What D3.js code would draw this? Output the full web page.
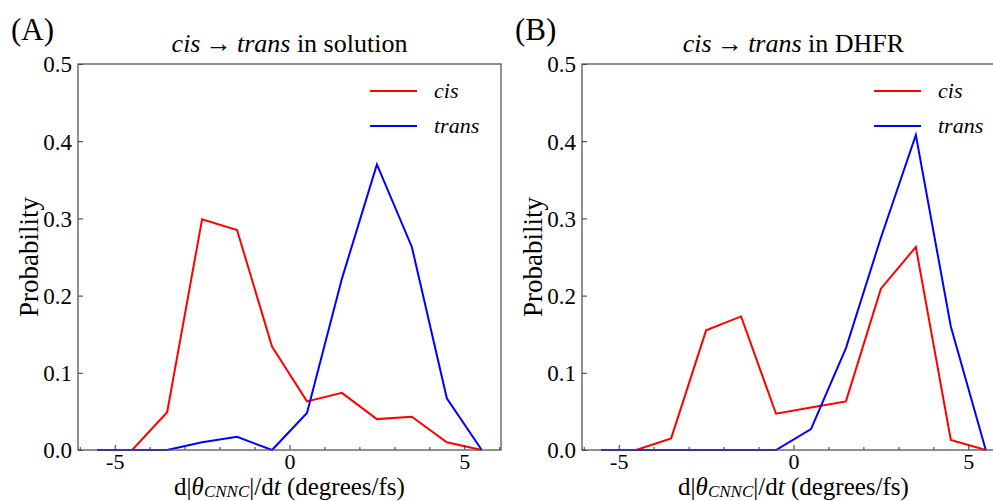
<!DOCTYPE html>
<html>
<head>
<meta charset="utf-8">
<script src="https://cdn.jsdelivr.net/npm/d3@7"></script>
<style>
  body { margin: 0; background: #fff; }
  svg { display: block; }
  text { font-family: "Liberation Serif", "Times New Roman", serif; fill: #000; }
</style>
</head>
<body>
<div id="chart"></div>
<script>
const width = 993;
const height = 501;

// bin centres (degrees/fs)
const binCenters = [-5.5, -4.5, -3.5, -2.5, -1.5, -0.5, 0.5, 1.5, 2.5, 3.5, 4.5, 5.5];

const solutionCis   = [0, 0, 0.049, 0.299, 0.285, 0.134, 0.063, 0.074, 0.040, 0.043, 0.010, 0];
const solutionTrans = [0, 0, 0, 0.010, 0.017, 0, 0.048, 0.222, 0.370, 0.263, 0.067, 0];

const dhfrCis   = [0, 0, 0.015, 0.155, 0.173, 0.047, 0.055, 0.063, 0.209, 0.263, 0.013, 0];
const dhfrTrans = [0, 0, 0, 0, 0, 0, 0.027, 0.132, 0.275, 0.408, 0.160, 0];

const xMajorTicks = [-5, 0, 5];
const xMinorTicks = [-6, -4, -3, -2, -1, 1, 2, 3, 4, 6];
const yTicks = [0.0, 0.1, 0.2, 0.3, 0.4, 0.5];

const svg = d3.select("#chart")
  .append("svg")
  .attr("width", width)
  .attr("height", height)
  .style("overflow", "hidden");

const plotW = 423;
const plotH = 386;
const plotTop = 64;

function drawPanel(left, label, titleRest, cisVals, transVals) {
  const x = d3.scaleLinear().domain([-6.05, 6.05]).range([0, plotW]);
  const y = d3.scaleLinear().domain([0, 0.5]).range([plotH, 0]);

  const g = svg.append("g").attr("transform", `translate(${left},${plotTop})`);

  // data lines
  const line = d3.line().x((d, i) => x(binCenters[i])).y(d => y(d));
  g.append("path").datum(cisVals)
    .attr("d", line).attr("fill", "none")
    .attr("stroke", "#ff0000").attr("stroke-width", 2);
  g.append("path").datum(transVals)
    .attr("d", line).attr("fill", "none")
    .attr("stroke", "#0000ff").attr("stroke-width", 2);

  // axes, ticks pointing inward
  const xAxis = g.append("g").attr("transform", `translate(0,${plotH})`)
    .call(d3.axisBottom(x).tickValues(xMajorTicks).tickSizeInner(-5).tickSizeOuter(0)
      .tickPadding(3).tickFormat(d => d < 0 ? "-" + Math.abs(d) : d));
  g.append("g").attr("transform", `translate(0,${plotH})`)
    .call(d3.axisBottom(x).tickValues(xMinorTicks).tickSizeInner(-3).tickSizeOuter(0).tickFormat(""))
    .call(a => a.select(".domain").remove());
  const yAxis = g.append("g")
    .call(d3.axisLeft(y).tickValues(yTicks).tickSizeInner(-5).tickSizeOuter(0)
      .tickPadding(6).tickFormat(d3.format(".1f")));

  [xAxis, yAxis].forEach(a => {
    a.selectAll("text").style("font-size", "23px").attr("font-family", null);
  });
  xAxis.selectAll("text").style("font-size", "22px");
  yAxis.selectAll("text").attr("dy", "0.34em");
  g.selectAll(".tick line").attr("stroke", "#333").attr("stroke-width", 1);

  // frame
  g.append("rect").attr("width", plotW).attr("height", plotH)
    .attr("fill", "none").attr("stroke", "#555").attr("stroke-width", 1.3);
  g.selectAll(".domain").remove();

  // legend
  const legend = [["cis", "#ff0000"], ["trans", "#0000ff"]];
  legend.forEach(([name, c], i) => {
    const ly = 27 + i * 35;
    g.append("line").attr("x1", 292).attr("x2", 339).attr("y1", ly).attr("y2", ly)
      .attr("stroke", c).attr("stroke-width", 2);
    g.append("text").attr("x", 356).attr("y", ly + 7)
      .style("font-size", "22px").style("font-style", "italic").text(name);
  });

  // title
  const t = svg.append("text")
    .attr("x", left + plotW / 2).attr("y", 52)
    .attr("text-anchor", "middle").style("font-size", "26px");
  t.append("tspan").style("font-style", "italic").text("cis");
  t.append("tspan").text("\u2009\u2192\u2009");
  t.append("tspan").style("font-style", "italic").text("trans");
  t.append("tspan").text(" " + titleRest);

  // panel label
  svg.append("text").attr("x", left - 67).attr("y", 40)
    .style("font-size", "31px").text(label);

  // y label
  svg.append("text")
    .attr("transform", `translate(${left - 40},${plotTop + plotH / 2}) rotate(-90)`)
    .attr("text-anchor", "middle").style("font-size", "27px").text("Probability");

  // x label
  const xl = svg.append("text")
    .attr("x", left + plotW / 2).attr("y", 495)
    .attr("text-anchor", "middle").style("font-size", "25px");
  xl.append("tspan").text("d|");
  xl.append("tspan").style("font-style", "italic").text("\u03b8");
  xl.append("tspan").style("font-style", "italic").style("font-size", "17px")
    .attr("dy", 2).text("CNNC");
  xl.append("tspan").attr("dy", -2).text("|/d");
  xl.append("tspan").style("font-style", "italic").text("t");
  xl.append("tspan").text(" (degrees/fs)");
}

drawPanel(78, "(A)", "in solution", solutionCis, solutionTrans);
drawPanel(582, "(B)", "in DHFR", dhfrCis, dhfrTrans);
</script>
</body>
</html>
